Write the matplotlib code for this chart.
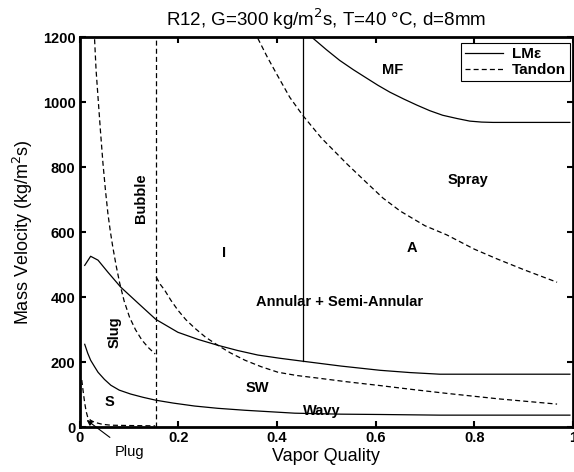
import matplotlib
matplotlib.use('Agg')
import matplotlib.pyplot as plt

plt.rcParams['font.family'] = ['Liberation Sans', 'DejaVu Sans']

# LM-epsilon boundaries (solid)
lm_mf_x = [0.473, 0.50, 0.527, 0.555, 0.582, 0.605, 0.629, 0.657, 0.684, 0.71, 0.736, 0.765, 0.791, 0.815, 0.838, 0.994]
lm_mf_y = [1197, 1162, 1129, 1100, 1074, 1052, 1031, 1010, 991, 974, 960, 950, 942, 939, 938, 938]

lm_vert_x = [0.452, 0.452]
lm_vert_y = [203, 1200]

lm_int_x = [0.010, 0.022, 0.037, 0.057, 0.083, 0.118, 0.154, 0.199, 0.240, 0.280,
            0.320, 0.361, 0.406, 0.452, 0.53, 0.609, 0.67, 0.730, 0.994]
lm_int_y = [498, 526, 514, 477, 431, 382, 332, 292, 270, 252,
            236, 222, 212, 203, 188, 175, 168, 163, 163]

lm_sw_x = [0.010, 0.016, 0.022, 0.030, 0.037, 0.050, 0.063, 0.080, 0.103, 0.128, 0.154,
           0.19, 0.233, 0.28, 0.335, 0.436, 0.53, 0.609, 0.73, 0.994]
lm_sw_y = [255, 228, 206, 186, 169, 147, 129, 114, 102, 92, 83,
           74, 65, 58, 52, 43, 40, 39, 37, 37]

# Tandon boundaries (dashed)
td_slug_x = [0.030, 0.033, 0.037, 0.042, 0.047, 0.052, 0.057, 0.062, 0.067, 0.074,
             0.081, 0.090, 0.101, 0.113, 0.126, 0.139, 0.153]
td_slug_y = [1194, 1100, 1015, 910, 812, 730, 658, 602, 554, 495,
             443, 388, 338, 300, 268, 245, 225]

td_bub_x = [0.154, 0.154]
td_bub_y = [0, 1200]

td_int_x = [0.155, 0.163, 0.172, 0.185, 0.199, 0.215, 0.233, 0.255, 0.280, 0.305, 0.335,
            0.368, 0.402, 0.44, 0.483, 0.54, 0.609, 0.68, 0.744, 0.85, 0.968]
td_int_y = [462, 440, 422, 390, 360, 331, 305, 277, 252, 229, 206,
            186, 169, 159, 151, 140, 128, 115, 104, 87, 71]

td_ann_x = [0.361, 0.38, 0.40, 0.426, 0.452, 0.49, 0.542, 0.58, 0.615, 0.65, 0.70,
            0.744, 0.80, 0.846, 0.90, 0.968]
td_ann_y = [1197, 1140, 1085, 1015, 960, 890, 810, 755, 705, 665, 620,
            592, 548, 518, 485, 446]

td_plug_x = [0.004, 0.007, 0.010, 0.013, 0.016, 0.022, 0.030, 0.045, 0.063, 0.10, 0.153]
td_plug_y = [145, 108, 74, 48, 31, 21, 15, 9, 6, 5, 4]

regions = [('MF', 0.635, 1098, 0), ('Spray', 0.787, 760, 0), ('A', 0.673, 551, 0),
           ('Annular + Semi-Annular', 0.527, 385, 0), ('I', 0.292, 535, 0),
           ('Bubble', 0.124, 705, 90), ('Slug', 0.071, 292, 90), ('S', 0.061, 77, 0),
           ('SW', 0.361, 120, 0), ('Wavy', 0.491, 49, 0)]

fig = plt.figure(figsize=(5.74, 4.72), dpi=100)
ax = fig.add_axes([0.139, 0.095, 0.859, 0.826])

dash = (0, (4, 2.5))
ax.plot(lm_mf_x, lm_mf_y, 'k-', lw=0.9, label='LM\u03b5')
ax.plot(lm_vert_x, lm_vert_y, 'k-', lw=0.9)
ax.plot(lm_int_x, lm_int_y, 'k-', lw=0.9)
ax.plot(lm_sw_x, lm_sw_y, 'k-', lw=0.9)
ax.plot(td_slug_x, td_slug_y, 'k', ls=dash, lw=0.9, label='Tandon')
ax.plot(td_bub_x, td_bub_y, 'k', ls=dash, lw=0.9)
ax.plot(td_int_x, td_int_y, 'k', ls=dash, lw=0.9)
ax.plot(td_ann_x, td_ann_y, 'k', ls=dash, lw=0.9)
ax.plot(td_plug_x, td_plug_y, 'k', ls=dash, lw=0.9)

for txt, x, y, rot in regions:
    ax.text(x, y, txt, ha='center', va='center', rotation=rot,
            fontsize=10.5, fontweight='bold')

ax.annotate('Plug', xy=(0.014, 22), xytext=(0.101, -77), fontsize=10.5,
            ha='center', va='center', annotation_clip=False,
            arrowprops=dict(arrowstyle='-|>', color='k', lw=0.8, shrinkB=0,
                            shrinkA=6, mutation_scale=8))

ax.set_xlim(0, 1)
ax.set_ylim(0, 1200)
ax.set_xticks([0, 0.2, 0.4, 0.6, 0.8, 1])
ax.set_xticklabels(['0', '0.2', '0.4', '0.6', '0.8', '1'])
ax.set_yticks([0, 200, 400, 600, 800, 1000, 1200])
ax.tick_params(direction='in', top=True, right=True, length=4, width=1.5,
               labelsize=10.5, pad=3)
for lab in ax.get_xticklabels() + ax.get_yticklabels():
    lab.set_fontweight('bold')
for s in ax.spines.values():
    s.set_linewidth(2)

ax.set_xlabel('Vapor Quality', fontsize=13, labelpad=2)
ax.set_ylabel('Mass Velocity (kg/m$^2$s)', fontsize=13, labelpad=6)
ax.set_title('R12, G=300 kg/m$^2$s, T=40 \u00b0C, d=8mm', fontsize=13.5, pad=8)

leg = ax.legend(loc='upper right', fontsize=11, handlelength=2.5, fancybox=False,
                edgecolor='k', framealpha=1, borderpad=0.25, labelspacing=0.15,
                borderaxespad=0, handletextpad=0.6,
                bbox_to_anchor=(0.994, 0.985))
leg.get_frame().set_linewidth(0.8)
for t in leg.get_texts():
    t.set_fontweight('bold')

fig.savefig('out.png', dpi=100)
